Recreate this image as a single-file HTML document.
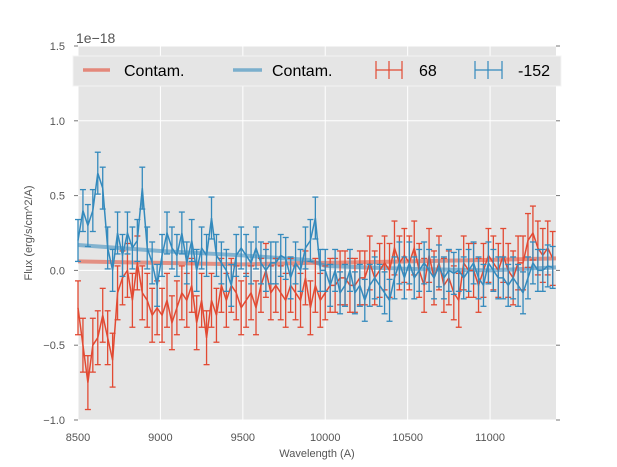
<!DOCTYPE html>
<html><head><meta charset="utf-8"><style>
body{margin:0;background:#fff;}
svg{display:block;font-family:"Liberation Sans","DejaVu Sans",sans-serif;}
</style></head><body>
<svg id="chart" width="617" height="467" viewBox="0 0 617 467" xmlns="http://www.w3.org/2000/svg">
<rect x="0" y="0" width="617" height="467" fill="#fff"/>
<rect x="78" y="46" width="478" height="374" fill="#e5e5e5"/>
<g id="grid"></g>
<g id="ticks"></g>
<g id="series"></g>
<text x="76" y="43" font-size="14" fill="#555">1e−18</text>
<text x="317" y="457" font-size="11" fill="#555" text-anchor="middle">Wavelength (A)</text>
<text transform="translate(32,233) rotate(-90)" font-size="11" fill="#555" text-anchor="middle">Flux (erg/s/cm^2/A)</text>
<g>
<rect x="73" y="56" width="488" height="30" fill="#e5e5e5" stroke="#f4f4f4" stroke-width="1"/>
<g>
<line x1="83" y1="70" x2="110" y2="70" stroke="#E24A33" stroke-opacity="0.6" stroke-width="3.5"/>
<text x="124" y="76" font-size="16" fill="#000">Contam.</text></g>
<g>
<line x1="233" y1="70" x2="262" y2="70" stroke="#348ABD" stroke-opacity="0.6" stroke-width="3.5"/>
<text x="272" y="76" font-size="16" fill="#000">Contam.</text></g>
<g stroke="#E24A33" stroke-width="1.2">
<line x1="376" y1="70" x2="402" y2="70"/><line x1="389" y1="61" x2="389" y2="79"/>
<line x1="376" y1="61" x2="376" y2="79"/><line x1="402" y1="61" x2="402" y2="79"/>
<text x="419" y="76" font-size="16" fill="#000" stroke="none">68</text></g>
<g stroke="#348ABD" stroke-width="1.2">
<line x1="475" y1="70" x2="502" y2="70"/><line x1="488" y1="61" x2="488" y2="79"/>
<line x1="475" y1="61" x2="475" y2="79"/><line x1="502" y1="61" x2="502" y2="79"/>
<text x="518" y="76" font-size="16" fill="#000" stroke="none">-152</text></g>
</g>
</svg>
<script>
const wlStart = 8500, wlStep = 30;
const redFlux = [-0.25,-0.5,-0.75,-0.5,-0.45,-0.3,-0.45,-0.6,-0.15,-0.05,0.0,-0.2,0.05,-0.15,
-0.2,-0.3,-0.25,-0.3,-0.2,-0.35,
-0.25,-0.15,-0.2,-0.1,-0.35,-0.2,-0.45,
-0.2,-0.3,-0.1,-0.2,-0.1,-0.15,-0.25,
-0.2,-0.15,-0.25,-0.1,0.0,-0.15,
-0.1,-0.15,-0.2,-0.1,-0.15,-0.2,-0.05,
-0.25,-0.1,-0.2,-0.15,-0.1,-0.1,-0.05,
-0.05,-0.1,-0.1,-0.05,-0.05,0.05,
-0.05,0.0,0.05,0.0,0.15,0.05,0.1,
0.05,0.15,0.0,-0.1,0.1,-0.05,0.05,
-0.1,-0.05,-0.15,-0.2,0.05,0.0,
0.0,-0.1,0.0,0.1,0.05,0.0,0.1,
0.0,-0.05,0.05,0.05,0.2,0.25,0.15,
0.1,0.15,0.08];
const blueFlux = [0.2,0.4,0.3,0.4,0.65,0.55,0.15,0.0,0.25,0.1,0.25,0.15,0.2,0.55,
0.15,0.05,-0.1,0.1,0.25,0.15,
0.1,0.25,0.05,0.2,0.0,0.15,0.1,
0.35,0.1,0.05,0.0,-0.1,0.1,0.15,
0.1,0.05,0.15,0.05,0.0,0.05,
0.05,0.1,0.08,-0.05,0.05,0.0,0.15,
0.2,0.35,0.0,0.0,-0.1,0.0,-0.15,
-0.1,0.0,-0.15,-0.1,-0.2,-0.1,
-0.05,-0.1,-0.15,-0.2,-0.05,0.05,-0.05,
0.05,-0.05,0.0,0.05,0.0,-0.05,0.03,
-0.05,0.0,-0.02,0.0,-0.05,0.0,
0.05,-0.05,-0.1,0.05,0.0,-0.05,-0.05,
-0.1,-0.05,-0.1,-0.15,-0.05,0.05,0.0,
0.0,0.03,0.02];
const redErr = 0.18, blueErr = 0.14;
const contamWl = [8500,9000,9500,9900,10000,10500,11000,11400];
const redContam = [0.06,0.05,0.04,0.05,0.05,0.06,0.07,0.08];
const blueContam = [0.17,0.13,0.1,0.07,0.03,0.01,0.0,0.02];
const xTicks = [8500,9000,9500,10000,10500,11000];
const yTicks = [-1.0,-0.5,0.0,0.5,1.0,1.5];
const yTickLabels = ["−1.0","−0.5","0.0","0.5","1.0","1.5"];

const X0=78,X1=556,Y0=420,Y1=46, xmin=8500,xmax=11400,ymin=-1,ymax=1.5;
const xs=v=>X0+(v-xmin)/(xmax-xmin)*(X1-X0);
const ys=v=>Y0-(v-ymin)/(ymax-ymin)*(Y0-Y1);
const NS="http://www.w3.org/2000/svg";
function mk(tag,attrs,parent){const e=document.createElementNS(NS,tag);for(const k in attrs)e.setAttribute(k,attrs[k]);parent.appendChild(e);return e;}
const grid=document.getElementById('grid'),ticks=document.getElementById('ticks'),series=document.getElementById('series');
xTicks.forEach(t=>{
 const l=mk('line',{x1:xs(t),x2:xs(t),y1:Y1,y2:Y0,stroke:'#fff','stroke-width':1},grid);
 
 
 const tx=mk('text',{x:xs(t),y:441,'font-size':11,fill:'#555','text-anchor':'middle'},ticks);
 tx.textContent=t;
 
 
});
yTicks.forEach((t,i)=>{
 const l=mk('line',{x1:X0,x2:X1,y1:ys(t),y2:ys(t),stroke:'#fff','stroke-width':1},grid);
 
 
 mk('line',{x1:X1,x2:X1+4,y1:ys(t),y2:ys(t),stroke:'#777'},ticks);
 mk('line',{x1:X0-4,x2:X0,y1:ys(t),y2:ys(t),stroke:'#777'},ticks);
 const tx=mk('text',{x:X0-13,y:ys(t)+4,'font-size':11,fill:'#555','text-anchor':'end'},ticks);
 tx.textContent=yTickLabels[i];
 
 
});
function contam(vals,color,name){
 const p=mk('polyline',{points:contamWl.map((w,i)=>xs(w)+','+ys(vals[i])).join(' '),fill:'none',stroke:color,'stroke-opacity':0.55,'stroke-width':4},series);
 
 
}
function errSeries(vals,err,color,name){
 const g=mk('g',{stroke:color,'stroke-width':1.3,fill:'none'},series);
 
 
 vals.forEach((v,i)=>{const x=xs(wlStart+i*wlStep);
  mk('line',{x1:x,x2:x,y1:ys(v-err),y2:ys(v+err)},g);
  mk('line',{x1:x-3,x2:x+3,y1:ys(v-err),y2:ys(v-err)},g);
  mk('line',{x1:x-3,x2:x+3,y1:ys(v+err),y2:ys(v+err)},g);});
 mk('polyline',{points:vals.map((v,i)=>xs(wlStart+i*wlStep)+','+ys(v)).join(' '),'stroke-width':1.5},g);
}
contam(redContam,'#E24A33','red-contam-line');
contam(blueContam,'#348ABD','blue-contam-line');
errSeries(redFlux,redErr,'#E24A33','series-68');
errSeries(blueFlux,blueErr,'#348ABD','series-minus152');
</script>
</body></html>
